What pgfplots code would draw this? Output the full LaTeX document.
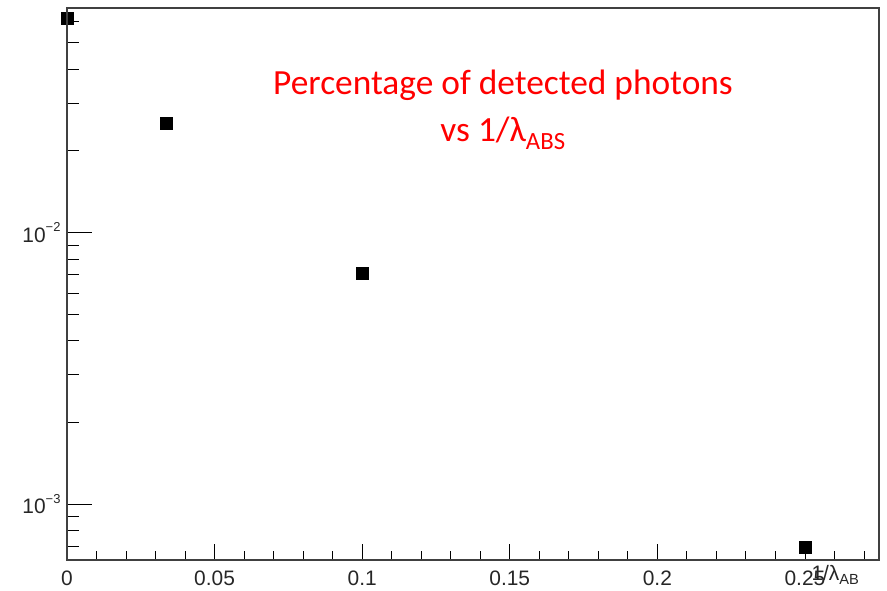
\documentclass[border=0pt]{standalone}
\usepackage{pgfplots}
\pgfplotsset{compat=1.18}
\usepackage{fontspec}
\setmainfont{Liberation Sans}
\newfontfamily\calibri{Carlito}
\begin{document}
\begin{tikzpicture}[x=1bp,y=1bp]
\path[use as bounding box] (-67,-31) rectangle (820,560);
% axis with y ticks and data
\begin{axis}[
  at={(0,0)}, anchor=south west,
  scale only axis, width=812bp, height=552bp,
  ymode=log,
  xmin=0, xmax=0.2751, ymin=6.24e-4, ymax=0.0671,
  axis line style={line width=1.3pt, draw=black!75},
  tick align=inside, ytick pos=left, xtick=\empty,
  ytick={0.001,0.01},
  yticklabels={10\raisebox{0.5em}{\fontsize{13}{13}\selectfont −3},10\raisebox{0.5em}{\fontsize{13}{13}\selectfont −2}},
  minor ytick={7e-4,8e-4,9e-4,0.002,0.003,0.004,0.005,0.006,0.007,0.008,0.009,0.02,0.03,0.04,0.05,0.06},
  major tick length=25bp, minor tick length=12bp,
  tick style={black, line width=0.8pt},
  /pgf/number format/assume math mode=true,
  tick label style={font=\fontsize{21}{24}\selectfont, text=black!85},
  yticklabel style={xshift=-3bp},
  clip=false,
]
\addplot[only marks, mark=square*, mark size=6bp, black] coordinates {
  (0, 0.0616)
  (0.0335, 0.0253)
  (0.1, 0.00707)
  (0.25, 0.000695)
};
\end{axis}
% axis with x ticks
\begin{axis}[
  at={(0,0)}, anchor=south west,
  scale only axis, width=812bp, height=552bp,
  ymode=log,
  xmin=0, xmax=0.2751, ymin=6.24e-4, ymax=0.0671,
  axis line style={line width=1.3pt, draw=black!75},
  tick align=inside, xtick pos=bottom, ytick=\empty,
  xtick={0,0.05,0.1,0.15,0.2,0.25},
  xticklabels={0,0.05,0.1,0.15,0.2,0.25},
  minor xtick={0.01,0.02,0.03,0.04,0.06,0.07,0.08,0.09,0.11,0.12,0.13,0.14,0.16,0.17,0.18,0.19,0.21,0.22,0.23,0.24,0.26,0.27},
  major tick length=16bp, minor tick length=9bp,
  tick style={black, line width=0.8pt},
  /pgf/number format/assume math mode=true,
  tick label style={font=\fontsize{21}{24}\selectfont, text=black!85},
  xticklabel style={anchor=base, yshift=-25bp},
]
\end{axis}
\node[anchor=base east, font=\fontsize{21}{24}\selectfont, text=black!85] at (796,-21) {1/λ\textsubscript{AB}};
\node[anchor=base, text=red, font=\calibri\fontsize{35.5}{40}\selectfont] at (436,465) {Percentage of detected photons};
\node[anchor=base, text=red, font=\calibri\fontsize{35.5}{40}\selectfont] at (436,418) {vs 1/λ\textsubscript{ABS}};
\end{tikzpicture}
\end{document}
